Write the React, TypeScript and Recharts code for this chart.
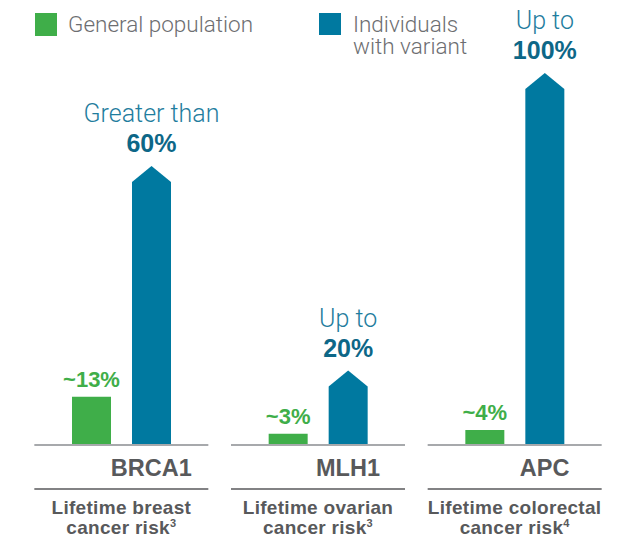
import React from "react";
import { BarChart, Bar, XAxis, YAxis, LabelList } from "recharts";

const genes = ["BRCA1", "MLH1", "APC"];
const riskTitles = ["Lifetime breast", "Lifetime ovarian", "Lifetime colorectal"];
const riskRefs = ["3", "3", "4"];
const generalRisk = [13, 3, 4];
const variantRisk = [75, 20, 100];
const generalLabels = ["~13%", "~3%", "~4%"];
const variantPrefix = ["Greater than", "Up to", "Up to"];
const variantLabels = ["60%", "20%", "100%"];

const GREEN = "#3fae49";
const BLUE = "#0079a0";
const GREY = "#58595b";
const LIGHT = "Roboto, 'Liberation Sans', sans-serif";
const BOLD = "'Liberation Sans', Arial, sans-serif";

const data = genes.map((g, i) => ({
  gene: g,
  general: generalRisk[i],
  variant: variantRisk[i],
}));

// blue bars end in an arrow point
const ArrowBar = (props: any) => {
  const { x, y, width, height, fill } = props;
  const tip = 16;
  const pts = [
    [x, y + height],
    [x, y + tip],
    [x + width / 2, y],
    [x + width, y + tip],
    [x + width, y + height],
  ]
    .map((p) => p.join(","))
    .join(" ");
  return <polygon points={pts} fill={fill} />;
};

const VariantLabel = (props: any) => {
  const { x, y, width, index } = props;
  const cx = x + width / 2;
  return (
    <g>
      <text x={cx} y={y - 44} textAnchor="middle" fontFamily={LIGHT} fontWeight={300} fontSize={25} fill="#1f7d9e">
        {variantPrefix[index]}
      </text>
      <text x={cx} y={y - 14} textAnchor="middle" fontFamily={BOLD} fontWeight={700} fontSize={25} fill="#0d6787">
        {variantLabels[index]}
      </text>
    </g>
  );
};

const GeneralLabel = (props: any) => {
  const { x, y, width, index } = props;
  return (
    <text x={x + width / 2} y={y - 10} textAnchor="middle" fontFamily={BOLD} fontWeight={700} fontSize={22} fill={GREEN}>
      {generalLabels[index]}
    </text>
  );
};

const GeneTick = (props: any) => {
  const { x, y, index } = props;
  const half = 87;
  return (
    <g>
      <line x1={x - half} x2={x + half} y1={y} y2={y} stroke="#a7a9ac" strokeWidth={2} />
      <text x={x + 30} y={y + 31} textAnchor="middle" fontFamily={BOLD} fontWeight={700} fontSize={23.5} fill={GREY}>
        {genes[index]}
      </text>
      <line x1={x - half} x2={x + half} y1={y + 44} y2={y + 44} stroke={GREY} strokeWidth={1.5} />
      <text x={x} y={y + 69} textAnchor="middle" fontFamily={BOLD} fontWeight={700} fontSize={19} letterSpacing={0.3} fill={GREY}>
        {riskTitles[index]}
      </text>
      <text x={x} y={y + 89} textAnchor="middle" fontFamily={BOLD} fontWeight={700} fontSize={19} letterSpacing={0.3} fill={GREY}>
        cancer risk
        <tspan fontSize={11} dy={-7}>{riskRefs[index]}</tspan>
      </text>
    </g>
  );
};

const LegendBox = () => (
  <svg width={629} height={62} style={{ position: "absolute", left: 0, top: 0 }}>
    <rect x={35} y={13} width={22} height={23} fill={GREEN} />
    <text x={68} y={32} fontFamily={LIGHT} fontWeight={300} fontSize={22.5} fill="#6d6e71">
      General population
    </text>
    <rect x={319} y={13} width={22} height={22} fill={BLUE} />
    <text x={353} y={32} fontFamily={LIGHT} fontWeight={300} fontSize={22.5} fill="#6d6e71">
      Individuals
    </text>
    <text x={353} y={54} fontFamily={LIGHT} fontWeight={300} fontSize={22.5} fill="#6d6e71">
      with variant
    </text>
  </svg>
);

export default function App() {
  return (
    <div style={{ position: "absolute", left: 0, top: 0, width: 629, height: 537, background: "#fff" }}>
      <BarChart
        width={629}
        height={537}
        data={data}
        margin={{ top: 73, right: 16, left: 23, bottom: 0 }}
        barGap={21}
        barSize={39}
      >
        <XAxis
          dataKey="gene"
          axisLine={false}
          tickLine={false}
          tickSize={0}
          tickMargin={0}
          tick={<GeneTick />}
          interval={0}
          height={92}
        />
        <YAxis hide domain={[0, 100]} />
        <Bar dataKey="general" fill={GREEN} isAnimationActive={false}>
          <LabelList dataKey="general" content={<GeneralLabel />} />
        </Bar>
        <Bar dataKey="variant" fill={BLUE} shape={<ArrowBar />} isAnimationActive={false}>
          <LabelList dataKey="variant" content={<VariantLabel />} />
        </Bar>
      </BarChart>
      <LegendBox />
    </div>
  );
}
